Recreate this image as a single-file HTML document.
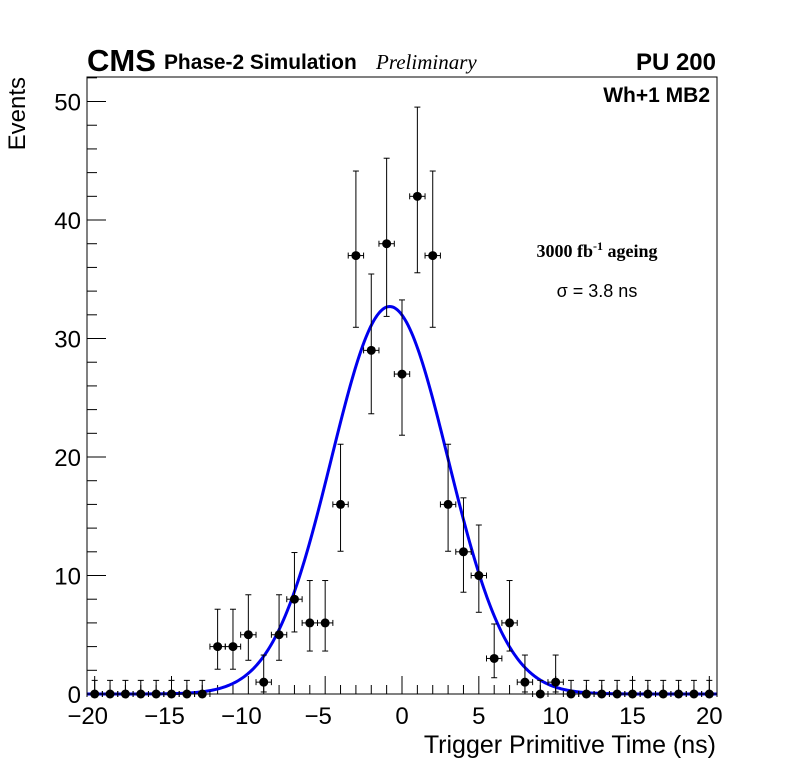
<!DOCTYPE html>
<html><head><meta charset="utf-8"><style>
body{margin:0;background:#fff;}
svg{display:block;font-family:"Liberation Sans",sans-serif;}
</style></head><body>
<svg id="chart" width="796" height="772">
<rect width="796" height="772" fill="#fff"/>
<g id="axes"></g>
<g id="fit"></g>
<g id="points"></g>
<text x="87" y="71" font-size="31" font-weight="bold">CMS</text>
<text x="164" y="69" font-size="20.9" font-weight="bold">Phase-2 Simulation</text>
<text x="376" y="69" font-size="21" font-style="italic" font-family="Liberation Serif,serif">Preliminary</text>
<text x="716" y="70" font-size="24" font-weight="bold" text-anchor="end">PU 200</text>
<text x="710" y="102" font-size="21" font-weight="bold" text-anchor="end">Wh+1 MB2</text>
<text x="597" y="257" font-size="18" font-weight="bold" text-anchor="middle" font-family="Liberation Serif,serif">3000 fb<tspan dy="-7" font-size="12">-1</tspan><tspan dy="7"> ageing</tspan></text>
<text x="597" y="297" font-size="18" text-anchor="middle">σ = 3.8 ns</text>
<text x="716" y="753" font-size="25" text-anchor="end">Trigger Primitive Time (ns)</text>
<text transform="translate(25,77) rotate(-90)" font-size="24" text-anchor="end">Events</text>
</svg>
<script>
const binCenters=[-20,-19,-18,-17,-16,-15,-14,-13,-12,-11,-10,-9,-8,-7,-6,-5,-4,-3,-2,-1,0,1,2,3,4,5,6,7,8,9,10,11,12,13,14,15,16,17,18,19,20];
const counts=[0,0,0,0,0,0,0,0,4,4,5,1,5,8,6,6,16,37,29,38,27,42,37,16,12,10,3,6,1,0,1,0,0,0,0,0,0,0,0,0,0];
const fitAmp=32.7, fitMean=-0.8, fitSigma=3.8;
const xTicks=[-20,-15,-10,-5,0,5,10,15,20];
const yTicks=[0,10,20,30,40,50];
const NS="http://www.w3.org/2000/svg";
const X0=87,X1=717,XMIN=-20.5,XMAX=20.5,Y0=694,Y1=77,YMIN=0,YMAX=52.07;
const sx=v=>X0+(v-XMIN)/(XMAX-XMIN)*(X1-X0);
const sy=v=>Y0-(v-YMIN)/(YMAX-YMIN)*(Y0-Y1);
function mk(tag,attrs,parent){const e=document.createElementNS(NS,tag);for(const k in attrs)e.setAttribute(k,attrs[k]);parent.appendChild(e);return e;}
const ax=document.getElementById('axes');
const frame=mk('rect',{x:X0,y:Y1,width:X1-X0,height:Y0-Y1,fill:'none',stroke:'#000','stroke-width':1},ax);


for(let v=-20;v<=20;v++){const major=v%5===0;const t=mk('line',{x1:sx(v),x2:sx(v),y1:Y0,y2:Y0-(major?18:9),stroke:'#000'},ax);

}
for(let v=0;v<=52;v+=2){const major=v%10===0;const t=mk('line',{x1:X0,x2:X0+(major?19:10),y1:sy(v),y2:sy(v),stroke:'#000'},ax);

}
xTicks.forEach(v=>{const t=mk('text',{x:sx(v)+(v<0?-7:0),y:Y0+30,'font-size':24,'text-anchor':'middle'},ax);t.textContent=(v<0?'\u2212':'')+Math.abs(v);

});
yTicks.forEach(v=>{const t=mk('text',{x:81,y:sy(v)+9,'font-size':24,'text-anchor':'end'},ax);t.textContent=v;

});
const fg=document.getElementById('fit');let d='';
for(let i=0;i<=400;i++){const v=XMIN+(XMAX-XMIN)*i/400;const y=fitAmp*Math.exp(-Math.pow(v-fitMean,2)/(2*fitSigma*fitSigma));d+=(i?'L':'M')+sx(v).toFixed(2)+','+sy(y).toFixed(2);}
const fp=mk('path',{d:d,fill:'none',stroke:'#0000ee','stroke-width':3},fg);


const pg=document.getElementById('points');
function garwood(n){if(n===0)return[0,1.15];const lo=n*Math.pow(1-1/(9*n)-1/(3*Math.sqrt(n)),3);const m=n+1;const hi=m*Math.pow(1-1/(9*m)+1/(3*Math.sqrt(m)),3);return[lo,hi];}
binCenters.forEach((c,i)=>{const n=counts[i];const [lo,hi]=garwood(n);const g=mk('g',{},pg);


const x=sx(c),y=sy(n),xl=sx(c-0.5),xr=sx(c+0.5);
mk('line',{x1:x,x2:x,y1:sy(hi),y2:sy(lo),stroke:'#000'},g);
mk('line',{x1:x-3,x2:x+3,y1:sy(hi),y2:sy(hi),stroke:'#000'},g);
if(n>0)mk('line',{x1:x-3,x2:x+3,y1:sy(lo),y2:sy(lo),stroke:'#000'},g);
mk('line',{x1:xl,x2:xl,y1:y-3,y2:y+3,stroke:'#000'},g);
mk('line',{x1:xl,x2:xr,y1:y,y2:y,stroke:'#000'},g);
mk('line',{x1:xr,x2:xr,y1:y-3,y2:y+3,stroke:'#000'},g);
mk('circle',{cx:x,cy:y,r:4.5,fill:'#000'},g);});
</script>
</body></html>
